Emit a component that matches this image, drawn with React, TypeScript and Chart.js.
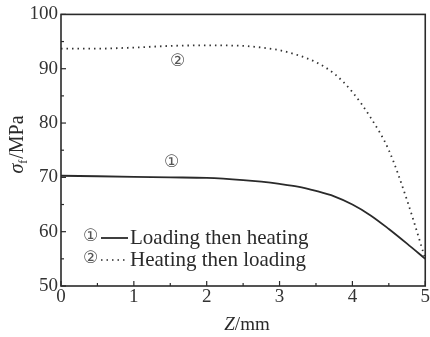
import React, { useEffect, useRef } from "react";
import { Chart, registerables } from "chart.js";
Chart.register(...registerables);

const zValues = [0, 0.5, 1, 1.5, 2, 2.5, 2.75, 3, 3.25, 3.5, 3.75, 4, 4.25, 4.5, 4.75, 5];
const loadingThenHeating = [70.3, 70.2, 70.1, 70.0, 69.9, 69.5, 69.2, 68.8, 68.3, 67.5, 66.5, 65.0, 63.0, 60.5, 57.8, 55.0];
const heatingThenLoading = [93.7, 93.7, 93.9, 94.2, 94.3, 94.2, 93.9, 93.4, 92.5, 91.2, 89.1, 85.7, 81.0, 75.0, 65.8, 55.0];
const seriesNames = ["Loading then heating", "Heating then loading"];
const markers = ["①", "②"];
const xTicks = [0, 1, 2, 3, 4, 5];
const yTicks = [50, 60, 70, 80, 90, 100];

const INK = "#2a2a2a";
const SERIF = "'Liberation Serif', 'DejaVu Serif', serif";
const SYM = "'DejaVu Sans', 'Noto Sans CJK SC', sans-serif";

const decorPlugin = {
  id: "decor",
  afterDraw(chart: any) {
    const { ctx, chartArea: a, scales } = chart;
    const xs = scales.x, ys = scales.y;
    ctx.save();
    // frame
    ctx.strokeStyle = INK;
    ctx.lineWidth = 1.6;
    ctx.strokeRect(a.left, a.top, a.right - a.left, a.bottom - a.top);
    // ticks inward
    ctx.lineWidth = 1.2;
    for (let v = 0; v <= 5.001; v += 0.5) {
      const px = xs.getPixelForValue(v);
      const len = Math.abs(v - Math.round(v)) < 0.01 ? 5 : 3;
      ctx.beginPath();
      ctx.moveTo(px, a.bottom);
      ctx.lineTo(px, a.bottom - len);
      ctx.stroke();
    }
    for (let v = 50; v <= 100.01; v += 5) {
      const py = ys.getPixelForValue(v);
      const len = v % 10 === 0 ? 5 : 3;
      ctx.beginPath();
      ctx.moveTo(a.left, py);
      ctx.lineTo(a.left + len, py);
      ctx.stroke();
    }
    // curve markers
    ctx.fillStyle = "#555";
    ctx.font = `17px ${SYM}`;
    ctx.textAlign = "center";
    ctx.textBaseline = "middle";
    ctx.fillText(markers[1], xs.getPixelForValue(1.6), ys.getPixelForValue(91.3));
    ctx.fillText(markers[0], xs.getPixelForValue(1.52), ys.getPixelForValue(72.8));
    // legend
    const lx = 83;
    const rows = [237, 259];
    ctx.textAlign = "left";
    for (let i = 0; i < 2; i++) {
      const y = rows[i];
      ctx.font = `17px ${SYM}`;
      ctx.fillStyle = "#555";
      ctx.fillText(markers[i], lx, y);
      ctx.strokeStyle = INK;
      ctx.lineWidth = 1.8;
      if (i === 1) { ctx.setLineDash([1.5, 4]); ctx.lineWidth = 1.6; }
      ctx.beginPath();
      ctx.moveTo(lx + 18, y + 1);
      ctx.lineTo(lx + (i === 1 ? 43 : 45), y + 1);
      ctx.stroke();
      ctx.setLineDash([]);
      ctx.font = `21px ${SERIF}`;
      ctx.fillStyle = INK;
      ctx.fillText(seriesNames[i], lx + 47, y + 1);
    }
    // y title
    ctx.save();
    ctx.translate(18, 145);
    ctx.rotate(-Math.PI / 2);
    ctx.textBaseline = "middle";
    ctx.textAlign = "left";
    ctx.fillStyle = INK;
    const t1 = "σ";
    ctx.font = `italic 20px ${SERIF}`;
    const w1 = ctx.measureText(t1).width;
    ctx.font = `12px ${SERIF}`;
    const w2 = ctx.measureText("f").width;
    ctx.font = `20px ${SERIF}`;
    const w3 = ctx.measureText("/MPa").width;
    const total = w1 + w2 + w3;
    let x = -total / 2;
    ctx.font = `italic 20px ${SERIF}`;
    ctx.fillText(t1, x, 0);
    x += w1;
    ctx.font = `12px ${SERIF}`;
    ctx.fillText("f", x, 6);
    x += w2 + 1;
    ctx.font = `20px ${SERIF}`;
    ctx.fillText("/MPa", x, 0);
    ctx.restore();
    // x title
    ctx.textBaseline = "middle";
    ctx.fillStyle = INK;
    ctx.font = `italic 19px ${SERIF}`;
    const wz = ctx.measureText("Z").width;
    ctx.font = `19px ${SERIF}`;
    const wm = ctx.measureText("/mm").width;
    const cx = 247 - (wz + wm) / 2;
    ctx.textAlign = "left";
    ctx.font = `italic 19px ${SERIF}`;
    ctx.fillText("Z", cx, 325);
    ctx.font = `19px ${SERIF}`;
    ctx.fillText("/mm", cx + wz, 325);
    ctx.restore();
  },
};

export default function App() {
  const ref = useRef<HTMLCanvasElement>(null);
  useEffect(() => {
    const chart = new Chart(ref.current!, {
      type: "line",
      data: {
        datasets: [
          {
            label: seriesNames[0],
            data: zValues.map((z, i) => ({ x: z, y: loadingThenHeating[i] })),
            borderColor: INK,
            borderWidth: 1.8,
            pointRadius: 0,
            cubicInterpolationMode: "monotone",
          },
          {
            label: seriesNames[1],
            data: zValues.map((z, i) => ({ x: z, y: heatingThenLoading[i] })),
            borderColor: "#333",
            borderWidth: 1.8,
            borderDash: [1.5, 4],
            pointRadius: 0,
            cubicInterpolationMode: "monotone",
          },
        ],
      },
      options: {
        animation: false,
        responsive: false,
        maintainAspectRatio: false,
        layout: { padding: { top: 10, right: 3, left: 0, bottom: 0 } },
        plugins: { legend: { display: false }, tooltip: { enabled: false } },
        scales: {
          x: {
            type: "linear",
            min: 0,
            max: 5,
            afterBuildTicks: (s: any) => { s.ticks = xTicks.map((v) => ({ value: v })); },
            afterFit: (s: any) => { s.height = 51; },
            grid: { display: false, drawTicks: false },
            border: { display: false },
            ticks: { color: "#333", font: { family: SERIF, size: 19 }, padding: 0, maxRotation: 0 },
          },
          y: {
            type: "linear",
            min: 50,
            max: 100,
            afterBuildTicks: (s: any) => { s.ticks = yTicks.map((v) => ({ value: v })); },
            afterFit: (s: any) => { s.width = 61; },
            grid: { display: false, drawTicks: false },
            border: { display: false },
            ticks: { color: "#333", font: { family: SERIF, size: 19 }, padding: 3 },
          },
        },
      },
      plugins: [decorPlugin],
    } as any);
    return () => chart.destroy();
  }, []);
  return (
    <div style={{ position: "fixed", left: 0, top: 0, width: 430, height: 337, background: "#fff" }}>
      <canvas ref={ref} width={430} height={337} style={{ width: 430, height: 337 }} />
    </div>
  );
}
